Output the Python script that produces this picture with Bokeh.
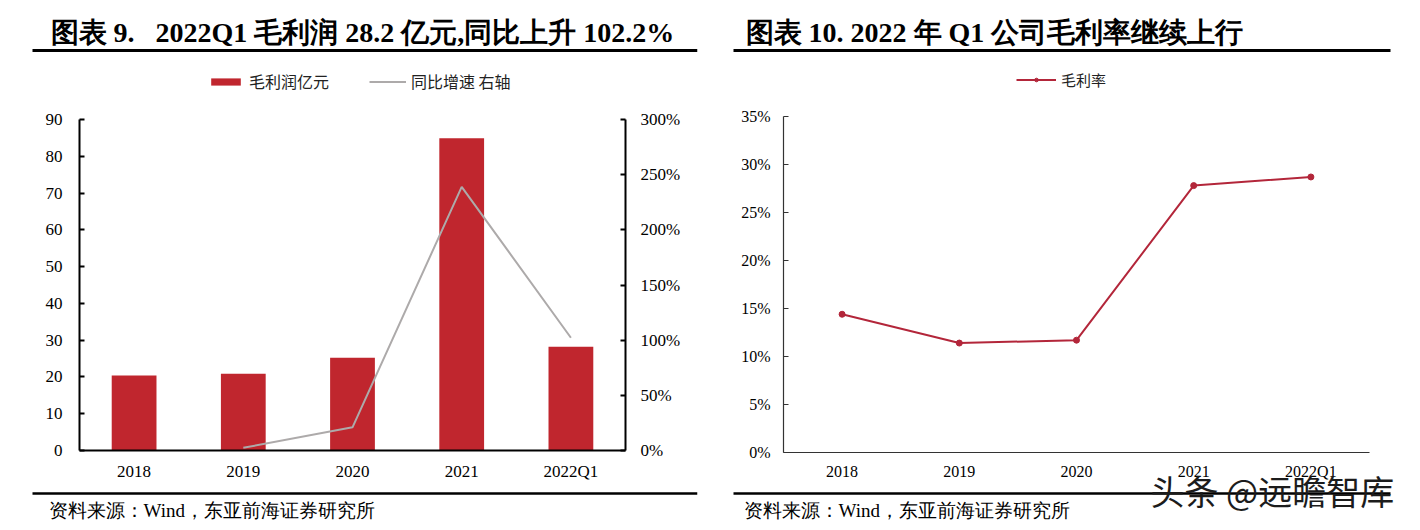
from bokeh.plotting import figure
from bokeh.models import (FactorRange, Range1d, LinearAxis, FixedTicker, PrintfTickFormatter,
                          Label, Arrow, Legend, LegendItem)
from bokeh.layouts import row
from bokeh.embed import file_html
from bokeh.resources import INLINE

# ---------------- data ----------------
categories = ["2018", "2019", "2020", "2021", "2022Q1"]
gross_profit = [20.4, 20.9, 25.2, 84.9, 28.2]          # 毛利润 亿元
yoy_categories = ["2019", "2020", "2021", "2022Q1"]
yoy_growth = [2.4, 21.0, 239.0, 102.2]                  # 同比增速 %
gross_margin = [14.4, 11.4, 11.7, 27.8, 28.7]           # 毛利率 %
left_ticks = [0, 10, 20, 30, 40, 50, 60, 70, 80, 90]
right_ticks = [0, 50, 100, 150, 200, 250, 300]
margin_ticks = [0, 5, 10, 15, 20, 25, 30, 35]

title1 = "图表 9.\u00a0\u00a0 2022Q1 毛利润 28.2 亿元,同比上升 102.2%"
title2 = "图表 10. 2022 年 Q1 公司毛利率继续上行"
source_text = "资料来源：Wind，东亚前海证券研究所"
legend_bar = "毛利润亿元"
legend_yoy = "同比增速 右轴"
legend_margin = "毛利率"
watermark = "头条 @远瞻智库"

# ---------------- styles / layout ----------------
SERIF = "Liberation Serif"
CJK = "Noto Sans CJK SC"
BAR_RED = "#C0262E"
LINE_GRAY = "#ADAAAA"
LINE_RED = "#B3263A"
PAGE_H = 530
COL_W = 710
N = len(categories)


def make_panel(col_x, frame_l, frame_r, cat_l, cat_r, ax_top, ax_bottom, y_max):
    """A figure whose frame covers the whole column height; axes are placed
    at fixed locations so every decoration sits inside the frame."""
    span = cat_r - cat_l
    pad_px = cat_l - frame_l
    x_range = FactorRange(*categories, range_padding=2 * pad_px / span,
                          range_padding_units="percent")
    k = (ax_bottom - ax_top) / y_max
    y_range = Range1d(-(PAGE_H - ax_bottom) / k, y_max + ax_top / k)
    p = figure(x_range=x_range, y_range=y_range,
               frame_width=frame_r - frame_l, frame_height=PAGE_H,
               min_border_left=frame_l - col_x, min_border_right=col_x + COL_W - frame_r,
               min_border_top=0, min_border_bottom=0,
               output_backend="svg", toolbar_location=None)
    p.xgrid.visible = False
    p.ygrid.visible = False
    p.outline_line_color = None
    p.background_fill_color = "white"
    p.border_fill_color = "white"
    return p


def style_axis(ax, size, width, color, ticks_in, standoff):
    ax.minor_tick_line_color = None
    ax.axis_line_width = width
    ax.axis_line_color = color
    ax.major_label_text_font = SERIF
    ax.major_label_text_font_size = size
    ax.major_label_text_color = "black"
    ax.major_label_standoff = standoff
    if ticks_in:
        ax.major_tick_in = 5
        ax.major_tick_out = 0
        ax.major_tick_line_width = width
        ax.major_tick_line_color = color
    else:
        ax.major_tick_line_color = None


def add_text(p, frame_l, text, px, py, size, bold=False, font=SERIF, color="black"):
    p.add_layout(Label(x=px - frame_l, y=PAGE_H - py, x_units="screen", y_units="screen",
                       text=text, text_font=font, text_font_size=size,
                       text_font_style="bold" if bold else "normal",
                       text_color=color, text_baseline="middle", text_align="left"))


def add_rule(p, frame_l, px0, px1, py, w):
    p.add_layout(Arrow(end=None, x_start=px0 - frame_l, y_start=PAGE_H - py,
                       x_end=px1 - frame_l, y_end=PAGE_H - py,
                       start_units="screen", end_units="screen",
                       line_color="black", line_width=w))


# ================= left chart =================
L_FL, L_FR = 7, 697
L_CL, L_CR, L_TOP, L_BOT = 79, 625, 119, 450

p1 = make_panel(0, L_FL, L_FR, L_CL, L_CR, L_TOP, L_BOT, left_ticks[-1])
k_pct = (L_BOT - L_TOP) / right_ticks[-1]
p1.extra_y_ranges = {"pct": Range1d(-(PAGE_H - L_BOT) / k_pct, right_ticks[-1] + L_TOP / k_pct)}

r_bar = p1.vbar(x=categories, top=gross_profit, width=0.41, fill_color=BAR_RED, line_color=None)
r_yoy = p1.line(x=yoy_categories, y=yoy_growth, y_range_name="pct",
                line_color=LINE_GRAY, line_width=2)

xa = p1.xaxis[0]
xa.fixed_location = 0
xa.bounds = (0, N)
style_axis(xa, "17px", 2, "black", False, 5)

ya = p1.yaxis[0]
ya.ticker = FixedTicker(ticks=left_ticks)
ya.fixed_location = 0
ya.bounds = (left_ticks[0], left_ticks[-1])
style_axis(ya, "17px", 2, "black", True, 17)

ra = LinearAxis(y_range_name="pct", ticker=FixedTicker(ticks=right_ticks),
                formatter=PrintfTickFormatter(format="%d%%"),
                bounds=(right_ticks[0], right_ticks[-1]), fixed_location=N)
style_axis(ra, "17px", 2, "black", True, 15)
p1.add_layout(ra, "right")

leg1 = Legend(items=[LegendItem(label=legend_bar, renderers=[r_bar]),
                     LegendItem(label=legend_yoy, renderers=[r_yoy])],
              location=(207 - L_FL, PAGE_H - 81 - 12), orientation="horizontal",
              glyph_width=37, glyph_height=9, label_height=9, label_standoff=5, spacing=40,
              padding=0, margin=0, border_line_color=None, background_fill_alpha=0,
              label_text_font=CJK, label_text_font_size="16px", label_text_color="#222222")
p1.add_layout(leg1, "center")

add_text(p1, L_FL, title1, 50, 32, "28px", bold=True)
add_rule(p1, L_FL, 32, 697, 50, 3)
add_rule(p1, L_FL, 32, 697, 493, 2.5)
add_text(p1, L_FL, source_text, 48, 510, "19px")

# ================= right chart =================
R_COL = COL_W
R_FL, R_FR = 732, 1420
R_CL, R_CR, R_TOP, R_BOT = 783, 1369, 116, 452

p2 = make_panel(R_COL, R_FL, R_FR, R_CL, R_CR, R_TOP, R_BOT, margin_ticks[-1])

r_m_line = p2.line(x=categories, y=gross_margin, line_color=LINE_RED, line_width=2)
r_m_pts = p2.scatter(x=categories, y=gross_margin, size=6, fill_color=LINE_RED, line_color=LINE_RED)

xb = p2.xaxis[0]
xb.fixed_location = 0
xb.bounds = (0, N)
style_axis(xb, "16px", 1.2, "#333333", False, 4)

yb = p2.yaxis[0]
yb.ticker = FixedTicker(ticks=margin_ticks)
yb.formatter = PrintfTickFormatter(format="%d%%")
yb.fixed_location = 0
yb.bounds = (margin_ticks[0], margin_ticks[-1])
style_axis(yb, "16px", 1.2, "#333333", True, 13)

leg2 = Legend(items=[LegendItem(label=legend_margin, renderers=[r_m_line, r_m_pts])],
              location=(1016 - R_FL, PAGE_H - 78 - 12), orientation="horizontal",
              glyph_width=40, glyph_height=9, label_height=9, label_standoff=5,
              padding=0, margin=0, border_line_color=None, background_fill_alpha=0,
              label_text_font=CJK, label_text_font_size="15px", label_text_color="#222222")
p2.add_layout(leg2, "center")

add_text(p2, R_FL, title2, 745, 32, "28px", bold=True)
add_rule(p2, R_FL, 733, 1390, 50, 3)
add_rule(p2, R_FL, 733, 1390, 493, 2.5)
add_text(p2, R_FL, source_text, 743, 510, "19px")
add_text(p2, R_FL, watermark, 1150, 490, "34px", font=CJK, color="#1c1c1c")

layout = row(p1, p2)
open("out.html", "w").write(file_html(layout, INLINE))
